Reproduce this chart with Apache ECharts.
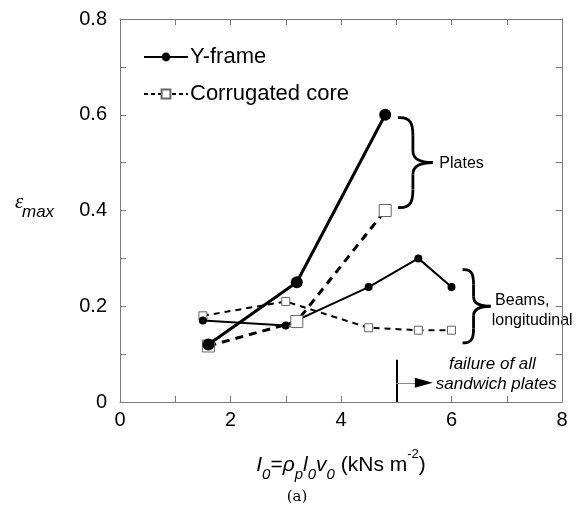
<!DOCTYPE html>
<html>
<head>
<meta charset="utf-8">
<script src="https://cdn.jsdelivr.net/npm/echarts@6/dist/echarts.min.js"></script>
<style>
  html, body { margin: 0; padding: 0; background: #fff; }
  #chart { width: 587px; height: 517px; }
</style>
</head>
<body>
<div id="chart"></div>
<script>
// impulse I0 (kNs m^-2) and max strain
const yPlatesX = [1.6, 3.2, 4.8]
const yPlatesY = [0.12, 0.25, 0.60]
const cPlatesX = [1.6, 3.2, 4.8]
const cPlatesY = [0.117, 0.168, 0.40]
const yBeamsX = [1.5, 3.0, 4.5, 5.4, 6.0]
const yBeamsY = [0.17, 0.16, 0.24, 0.30, 0.24]
const cBeamsX = [1.5, 3.0, 4.5, 5.4, 6.0]
const cBeamsY = [0.18, 0.21, 0.155, 0.15, 0.15]

const xTicks = ['0', '2', '4', '6', '8']
const yTicks = ['0', '0.2', '0.4', '0.6', '0.8']

// "failure of all sandwich plates" marker
const failX = 5.0
const failTop = 0.088
const arrowY = 0.04

const pairs = (xs, ys) => xs.map((x, i) => [x, ys[i]])

const FONT = 'Liberation Sans'
const axisGray = '#7a7a7a'

const chart = echarts.init(document.getElementById('chart'))

const baseAxis = {
  type: 'value',
  axisLine: { show: true, onZero: false, lineStyle: { color: axisGray, width: 1 } },
  axisTick: { show: true, inside: true, length: 6, lineStyle: { color: axisGray } },
  splitLine: { show: false }
}

const option = {
  backgroundColor: '#fff',
  animation: false,
  grid: { left: 120, right: 25, top: 19, bottom: 115 },
  legend: {
    data: [
      { name: 'Y-frame' },
      { name: 'Corrugated core', lineStyle: { type: [4, 3] } }
    ],
    orient: 'vertical',
    left: 143,
    top: 46,
    padding: 0,
    itemWidth: 44,
    itemHeight: 11,
    itemGap: 15,
    lineStyle: { width: 2 },
    textStyle: { fontFamily: FONT, fontSize: 22, color: '#000', padding: [0, 0, 0, -3] }
  },
  xAxis: [
    {
      ...baseAxis,
      min: 0, max: 8, interval: 1,
      axisLabel: {
        margin: 8, color: '#000', fontFamily: FONT, fontSize: 20,
        formatter: v => (v % 2 === 0 ? xTicks[v / 2] : '')
      },
      name: '{it|I}{sub|0}{n|=}{it|ρ}{sub|p}{it|l}{sub|0}{it|v}{sub|0}{n| (kNs m}{sup|-2}{n|)}',
      nameLocation: 'middle',
      nameGap: 46,
      nameTextStyle: {
        color: '#000', fontFamily: FONT, fontSize: 21,
        rich: {
          it: { fontFamily: FONT, fontSize: 21, fontStyle: 'italic', lineHeight: 34 },
          n: { fontFamily: FONT, fontSize: 21, lineHeight: 34 },
          sub: { fontFamily: FONT, fontSize: 15, fontStyle: 'italic', lineHeight: 14, verticalAlign: 'bottom' },
          sup: { fontFamily: FONT, fontSize: 13, lineHeight: 14, verticalAlign: 'top' }
        }
      }
    },
    {
      ...baseAxis,
      position: 'top',
      min: 0, max: 8, interval: 1,
      axisLabel: { show: false }
    }
  ],
  yAxis: [
    {
      ...baseAxis,
      min: 0, max: 0.8, interval: 0.1,
      axisLabel: {
        margin: 13, color: '#000', fontFamily: FONT, fontSize: 20,
        formatter: v => {
          const k = Math.round(v * 10)
          return k % 2 === 0 ? yTicks[k / 2] : ''
        }
      }
    },
    {
      ...baseAxis,
      position: 'right',
      min: 0, max: 0.8, interval: 0.1,
      axisLabel: { show: false }
    }
  ],
  series: [
    {
      name: 'Y-frame',
      type: 'line',
      data: pairs(yBeamsX, yBeamsY),
      symbol: 'circle',
      symbolSize: 8,
      lineStyle: { color: '#000', width: 2 },
      itemStyle: { color: '#000' },
      z: 3
    },
    {
      name: 'Corrugated core',
      type: 'line',
      data: pairs(cBeamsX, cBeamsY),
      symbol: 'rect',
      symbolSize: 8,
      lineStyle: { color: '#000', width: 2, type: [6, 5] },
      itemStyle: { color: '#fff', borderColor: '#666', borderWidth: 1 },
      z: 2,
      markLine: {
        silent: true,
        symbol: 'none',
        label: { show: false },
        data: [
          [{ coord: [failX, 0], lineStyle: { color: '#000', width: 2, type: 'solid' } }, { coord: [failX, failTop] }],
          [{ coord: [failX, arrowY], lineStyle: { color: '#888', width: 1, type: 'solid' } }, { coord: [5.35, arrowY] }]
        ]
      },
      markPoint: {
        silent: true,
        data: [
          { coord: [5.5, arrowY], symbol: 'triangle', symbolSize: [10, 18], symbolRotate: -90,
            itemStyle: { color: '#000', borderWidth: 0 }, label: { show: false } }
        ]
      }
    },
    {
      name: 'Y-frame',
      type: 'line',
      data: pairs(yPlatesX, yPlatesY),
      symbol: 'circle',
      symbolSize: 12,
      lineStyle: { color: '#000', width: 3 },
      itemStyle: { color: '#000' },
      z: 5
    },
    {
      name: 'Corrugated core',
      type: 'line',
      data: pairs(cPlatesX, cPlatesY),
      symbol: 'rect',
      symbolSize: 12,
      lineStyle: { color: '#000', width: 3, type: [8, 6] },
      itemStyle: { color: '#fff', borderColor: '#666', borderWidth: 1 },
      z: 4
    }
  ]
}

chart.setOption(option)

// annotations anchored in data units
const at = (x, y) => chart.convertToPixel({ xAxisIndex: 0, yAxisIndex: 0 }, [x, y])

// curly brace opening to the right: tips at x=0, spine at s, point at p
function brace (pos, h, s, p) {
  const r1 = h * 0.2
  const r2 = h * 0.13
  const k = s + (p - s) * 0.5
  const st = { stroke: '#000', lineWidth: 2.8, fill: null }
  const curve = (x1, y1, c1x, c1y, c2x, c2y, x2, y2) => ({
    type: 'bezierCurve', silent: true, style: st,
    shape: { x1, y1, cpx1: c1x, cpy1: c1y, cpx2: c2x, cpy2: c2y, x2, y2 }
  })
  const line = (x1, y1, x2, y2) => ({ type: 'line', silent: true, style: st, shape: { x1, y1, x2, y2 } })
  return {
    type: 'group',
    x: pos[0],
    y: pos[1],
    children: [
      curve(0, -h / 2, s * 0.9, -h / 2 - 1, s, -h / 2 + r1 * 0.4, s, -h / 2 + r1),
      line(s, -h / 2 + r1, s, -r2),
      curve(s, -r2, s, -r2 * 0.2, k, 0, p, 0),
      curve(p, 0, k, 0, s, r2 * 0.2, s, r2),
      line(s, r2, s, h / 2 - r1),
      curve(s, h / 2 - r1, s, h / 2 - r1 * 0.4, s * 0.9, h / 2 + 1, 0, h / 2)
    ]
  }
}

const notes = [
  { p: at(5.78, 0.497), text: 'Plates', font: 16, align: 'left' },
  { p: at(7.28, 0.211), text: 'Beams,', font: 16, align: 'center' },
  { p: at(7.46, 0.169), text: 'longitudinal', font: 16, align: 'center' },
  { p: at(6.74, 0.078), text: 'failure of all', font: 17, align: 'center', italic: true },
  { p: at(6.81, 0.036), text: 'sandwich plates', font: 17, align: 'center', italic: true }
]

const graphic = [
  brace(at(5.03, 0.5), 90, 15, 35),
  brace(at(6.2, 0.2), 73, 11, 28)
]

notes.forEach(n => graphic.push({
  type: 'text',
  x: n.p[0],
  y: n.p[1],
  silent: true,
  style: {
    text: n.text,
    fontFamily: FONT,
    fontSize: n.font,
    fontStyle: n.italic ? 'italic' : 'normal',
    fill: '#000',
    align: n.align,
    verticalAlign: 'middle'
  }
}))

// y axis name: epsilon with subscript "max", and the panel caption
graphic.push(
  { type: 'text', x: 15, y: 202, silent: true,
    style: { text: 'ε', fontFamily: 'Liberation Serif', fontSize: 21, fontStyle: 'italic', fill: '#000', verticalAlign: 'middle' } },
  { type: 'text', x: 22, y: 212, silent: true,
    style: { text: 'max', fontFamily: FONT, fontSize: 17, fontStyle: 'italic', fill: '#000', verticalAlign: 'middle' } },
  { type: 'text', x: 297, y: 497, silent: true,
    style: { text: '(a)', fontFamily: 'DejaVu Serif', fontSize: 15, fill: '#000', align: 'center', verticalAlign: 'middle' } }
)

chart.setOption({ graphic })
</script>
</body>
</html>
